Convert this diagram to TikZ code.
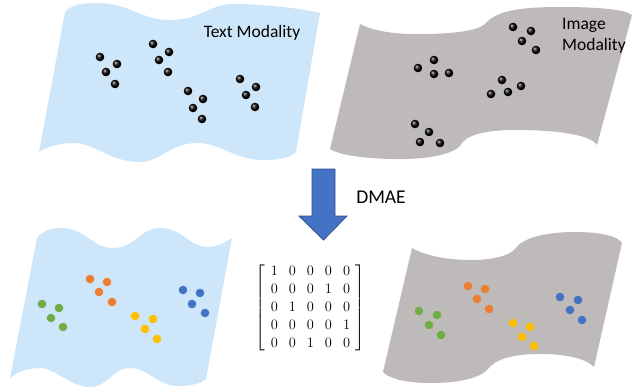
\documentclass[tikz,border=0pt]{standalone}
\usepackage{fontspec}
\setmainfont{Carlito}
\usepackage{amsmath}
\definecolor{flagblue}{RGB}{205,230,250}
\definecolor{flaggray}{RGB}{191,186,186}
\definecolor{arrowblue}{RGB}{68,114,196}
\definecolor{arrowdark}{RGB}{47,82,143}
\definecolor{dorange}{RGB}{237,125,49}
\definecolor{dgreen}{RGB}{112,173,71}
\definecolor{dyellow}{RGB}{255,192,0}
\definecolor{dblue}{RGB}{68,114,196}
\tikzset{
  bdot/.style={shading=ball, ball color=black},
  labeltext/.style={font=\fontsize{17.5}{21}\selectfont, inner sep=0pt},
}
\newcommand{\blackdots}[1]{\foreach \p in {#1} {\shade[bdot] \p circle (4.3);}}
\newcommand{\colordots}[2]{\foreach \p in {#2} {\fill[#1] \p circle (4.3);}}
\begin{document}
\begin{tikzpicture}[x=1pt,y=-1pt]
\useasboundingbox (0,0) rectangle (634,389);
% top-left flag
\fill[flagblue] (65,12) .. controls (72,4) and (85,3) .. (97,3)
  .. controls (130,3) and (140,20) .. (170,20)
  .. controls (200,20) and (210,4) .. (233,4)
  .. controls (260,4) and (300,8) .. (320,13)
  -- (296,152)
  .. controls (290,158) and (280,160) .. (263,160)
  .. controls (235,160) and (220,143) .. (197,143)
  .. controls (170,143) and (160,162) .. (140,162)
  .. controls (110,162) and (95,143) .. (73,143)
  .. controls (58,143) and (45,148) .. (39,152) -- cycle;
% top-right flag
\fill[flaggray] (360,24) .. controls (375,32) and (400,35) .. (430,34)
  .. controls (460,33) and (478,30) .. (485,24)
  .. controls (495,12) and (515,7) .. (560,7)
  .. controls (595,7) and (625,9) .. (632,15)
  -- (597,145)
  .. controls (590,135) and (560,130) .. (515,130)
  .. controls (485,130) and (465,135) .. (460,146)
  .. controls (450,156) and (420,160) .. (390,159)
  .. controls (360,158) and (340,155) .. (330,149) -- cycle;
% bottom-left flag
\fill[flagblue] (37,238) .. controls (43,230) and (52,228) .. (62,228)
  .. controls (85,228) and (92,248) .. (113,248)
  .. controls (135,248) and (140,228) .. (160,228)
  .. controls (182,228) and (190,247) .. (207,247)
  .. controls (218,247) and (226,242) .. (232,238)
  -- (206,379)
  .. controls (200,384) and (190,386) .. (178,386)
  .. controls (158,386) and (148,368) .. (130,368)
  .. controls (112,368) and (108,387) .. (90,387)
  .. controls (70,387) and (55,368) .. (40,368)
  .. controls (25,368) and (15,374) .. (10,378) -- cycle;
% bottom-right flag
\fill[flaggray] (412,248) .. controls (425,256) and (450,260) .. (470,260)
  .. controls (495,260) and (510,255) .. (515,249)
  .. controls (522,238) and (545,232) .. (575,232)
  .. controls (600,232) and (618,236) .. (622,243)
  -- (594,367)
  .. controls (585,358) and (565,354) .. (540,354)
  .. controls (510,354) and (495,360) .. (488,369)
  .. controls (480,378) and (460,383) .. (430,383)
  .. controls (405,383) and (388,378) .. (383,372) -- cycle;
% black dots top-left
\blackdots{(100,57),(117,64),(106,72),(115,84),
       (153,44),(169,52),(159,60),(168,72),
       (188,91),(203,99),(193,108),(202,119),
       (240,79),(256,87),(246,95),(255,107)}
% black dots top-right
\blackdots{(513,27),(531,31),(522,41),(536,50),
       (434,60),(418,68),(434,74),(449,73),
       (502,80),(521,86),(508,92),(491,94),
       (415,124),(429,132),(420,142),(440,143)}
% coloured dots bottom-left
\colordots{dorange}{(90,279),(107,282),(99,292),(112,302)}
\colordots{dgreen}{(42,304),(59,308),(51,318),(63,327)}
\colordots{dyellow}{(135,316),(153,319),(145,329),(157,339)}
\colordots{dblue}{(183,290),(200,293),(192,304),(205,313)}
% coloured dots bottom-right
\colordots{dorange}{(468,286),(485,289),(477,299),(489,309)}
\colordots{dgreen}{(419,311),(437,315),(429,325),(441,335)}
\colordots{dyellow}{(513,323),(530,327),(522,337),(534,346)}
\colordots{dblue}{(560,297),(578,300),(570,310),(582,320)}
% labels
\node[labeltext] (textmod) at (252,33) {Text Modality};
\node[labeltext, anchor=west, align=left] (imgmod) at (562,36) {Image\\Modality};
\node[font=\fontsize{19.5}{23}\selectfont, inner sep=0pt] (dmae) at (381,197) {DMAE};
% arrow
\filldraw[fill=arrowblue, draw=arrowdark, line width=0.8pt, line join=miter]
  (312,169) -- (335,169) -- (335,216) -- (347,216) -- (323.5,240) -- (299,216) -- (312,216) -- cycle;
% matrix
\node[inner sep=0pt] (perm) at (310.5,308) {\fontsize{14}{18}\selectfont\setlength{\arraycolsep}{5.5pt}%
  $\left[\begin{array}{ccccc}
  1 & 0 & 0 & 0 & 0\\
  0 & 0 & 0 & 1 & 0\\
  0 & 1 & 0 & 0 & 0\\
  0 & 0 & 0 & 0 & 1\\
  0 & 0 & 1 & 0 & 0
  \end{array}\right]$};
\end{tikzpicture}
\end{document}
